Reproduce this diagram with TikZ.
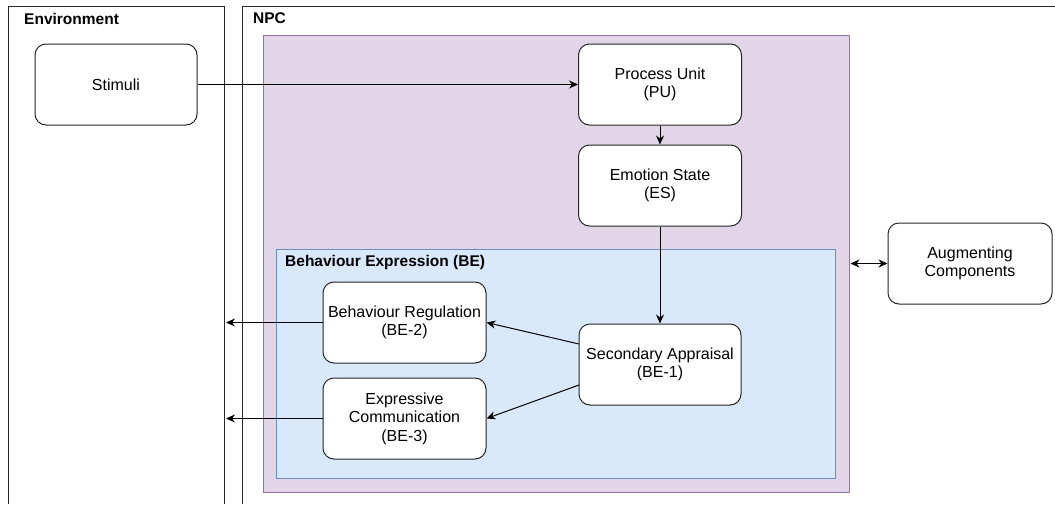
\documentclass[tikz,border=0pt]{standalone}
\usepackage{fontspec}
\setmainfont{Liberation Sans}
\usetikzlibrary{arrows.meta}
\definecolor{purplefill}{HTML}{E1D5E7}
\definecolor{purpleline}{HTML}{9673A6}
\definecolor{bluefill}{HTML}{DAE8FC}
\definecolor{blueline}{HTML}{6C8EBF}
\tikzset{
  px/.style={x=1pt,y=-1pt},
  frame/.style={draw=black!85,line width=1.1pt},
  blockbox/.style={draw=black!85,line width=1pt,fill=white,rounded corners=11pt,
    align=center,inner sep=0pt,font=\fontsize{16}{18.5}\selectfont},
  title/.style={anchor=west,font=\bfseries\fontsize{15.5}{18}\selectfont,inner sep=0pt},
  link/.style={draw=black,line width=1pt,-{Stealth[length=9pt,width=8pt]}},
  twoway/.style={draw=black,line width=1pt,{Stealth[length=9pt,width=8pt]}-{Stealth[length=9pt,width=8pt]}},
}
\begin{document}
\begin{tikzpicture}[px]
\useasboundingbox (0,0) rectangle (1055,504);
\fill[white] (0,0) rectangle (1055,504);

% outer frames, open at the bottom
\draw[frame] (8.5,504) -- (8.5,6.5) -- (224.5,6.5) -- (224.5,504);
\draw[frame] (242.5,504) -- (242.5,6.5) -- (1055,6.5);
\node[title] (envlabel) at (24,18.5) {Environment};
\node[title] (npclabel) at (253,18.5) {NPC};

% NPC internals and behaviour expression group
\draw[draw=purpleline,fill=purplefill,line width=1pt] (263.5,35.5) rectangle (849,492);
\draw[draw=blueline,fill=bluefill,line width=1pt] (276.5,249) rectangle (835.5,478);
\node[title] (belabel) at (285,262) {Behaviour Expression (BE)};

% blocks
\node[blockbox,minimum width=162pt,minimum height=81pt] (stim) at (116,84.5) {Stimuli};
\node[blockbox,minimum width=163pt,minimum height=81pt] (pu) at (660,84.5) {Process Unit\\(PU)};
\node[blockbox,minimum width=163pt,minimum height=81pt] (es) at (660,185.5) {Emotion State\\(ES)};
\node[blockbox,minimum width=162pt,minimum height=81pt] (sa) at (660,364.5) {Secondary Appraisal\\(BE-1)};
\node[blockbox,minimum width=163pt,minimum height=81pt] (br) at (404.5,322.5) {Behaviour Regulation\\(BE-2)};
\node[blockbox,minimum width=163pt,minimum height=81pt] (ec) at (404.5,418.5) {Expressive\\Communication\\(BE-3)};
\node[blockbox,minimum width=164pt,minimum height=81pt] (aug) at (970,263.5) {Augmenting\\Components};

% free ends of the outward arrows and the NPC boundary point
\coordinate (brout) at (226,322.5);
\coordinate (ecout) at (226,418.5);
\coordinate (npcedge) at (850.5,263.5);
\coordinate (sabr) at (579,344);
\coordinate (saec) at (579,385);

% connectors
\draw[link] (stim.east) -- (pu.west);
\draw[link] (pu.south) -- (es.north);
\draw[link] (es.south) -- (sa.north);
\draw[link] (sabr) -- (br.east);
\draw[link] (saec) -- (ec.east);
\draw[link] (br.west) -- (brout);
\draw[link] (ec.west) -- (ecout);
\draw[twoway] (npcedge) -- (aug.west);
\end{tikzpicture}
\end{document}
